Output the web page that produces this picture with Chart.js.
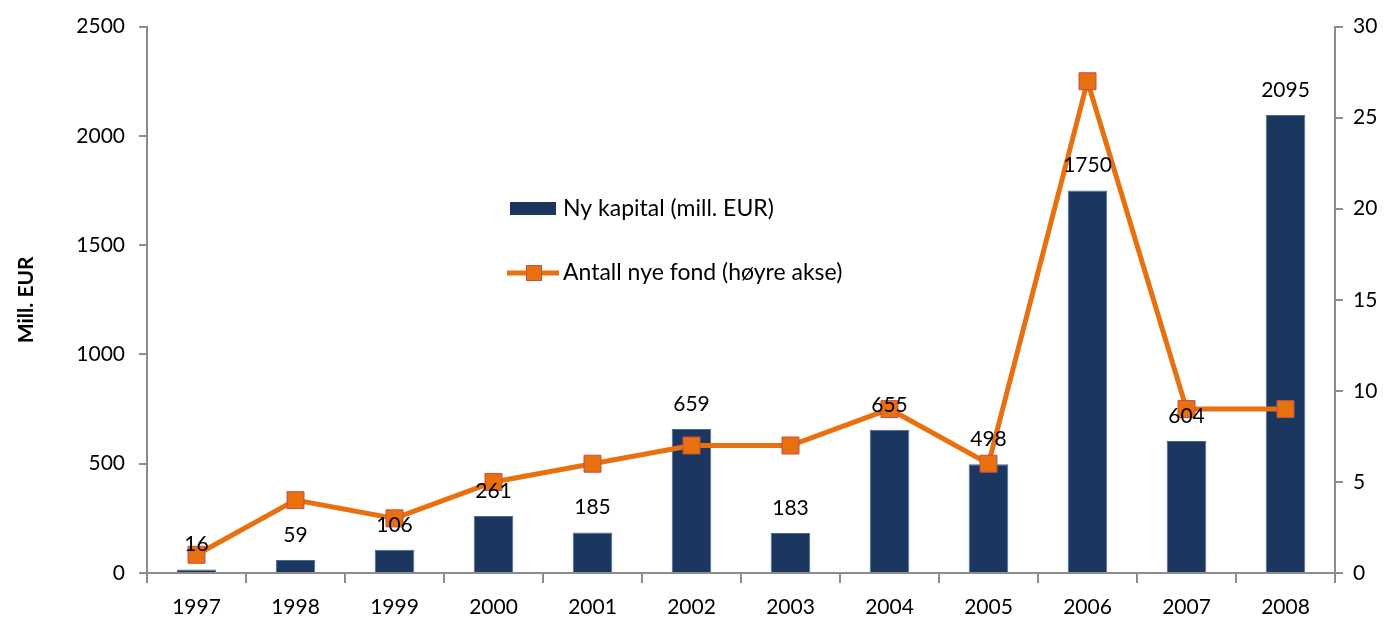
<!DOCTYPE html>
<html>
<head>
<meta charset="utf-8">
<script src="https://cdn.jsdelivr.net/npm/chart.js@4"></script>
<style>
  html, body { margin: 0; padding: 0; background: #fff; }
  #wrap { width: 1389px; height: 624px; position: relative; }
</style>
</head>
<body>
<div id="wrap"><canvas id="fondChart"></canvas></div>
<script>
const years = ['1997', '1998', '1999', '2000', '2001', '2002', '2003', '2004', '2005', '2006', '2007', '2008'];
const nyKapital = [16, 59, 106, 261, 185, 659, 183, 655, 498, 1750, 604, 2095];
const antallFond = [1, 4, 3, 5, 6, 7, 7, 9, 6, 27, 9, 9];
const leftTicks = [0, 500, 1000, 1500, 2000, 2500];
const rightTicks = [0, 5, 10, 15, 20, 25, 30];

const FONT = 'Lato, "Open Sans", sans-serif';
const BAR_COLOR = '#1b375f';
const LINE_COLOR = '#e8700f';
const AXIS_COLOR = '#8c8c8c';

// value labels above the bars, drawn after everything else
const barLabels = {
    id: 'barLabels',
    afterDatasetsDraw(chart) {
        const ctx = chart.ctx;
        const meta = chart.getDatasetMeta(0);
        ctx.save();
        ctx.font = '21px ' + FONT;
        ctx.fillStyle = '#000';
        ctx.textAlign = 'center';
        ctx.textBaseline = 'middle';
        meta.data.forEach(function(bar, i) {
            ctx.fillText(String(nyKapital[i]), bar.x, bar.y - 25);
        });
        ctx.restore();
    }
};

// legend placed inside the plot, like the original
const innerLegend = {
    id: 'innerLegend',
    afterDraw(chart) {
        const ctx = chart.ctx;
        ctx.save();
        ctx.font = '23px ' + FONT;
        ctx.textBaseline = 'middle';
        ctx.textAlign = 'left';

        ctx.fillStyle = BAR_COLOR;
        ctx.fillRect(510, 202, 46, 13);
        ctx.fillStyle = '#000';
        ctx.fillText(chart.data.datasets[0].label, 563, 209);

        ctx.strokeStyle = LINE_COLOR;
        ctx.lineWidth = 5;
        ctx.beginPath();
        ctx.moveTo(507, 273);
        ctx.lineTo(559, 273);
        ctx.stroke();
        ctx.fillStyle = LINE_COLOR;
        ctx.fillRect(526, 265, 16, 16);
        ctx.strokeStyle = '#c0504d';
        ctx.lineWidth = 1;
        ctx.strokeRect(526.5, 265.5, 15, 15);
        ctx.fillStyle = '#000';
        ctx.fillText(chart.data.datasets[1].label, 563, 273);
        ctx.restore();
    }
};

function plainNumber(value) { return String(value); }

new Chart(document.getElementById('fondChart').getContext('2d'), {
    type: 'bar',
    data: {
        labels: years,
        datasets: [{
            type: 'bar',
            label: 'Ny kapital (mill. EUR)',
            data: nyKapital,
            backgroundColor: BAR_COLOR,
            borderColor: '#4a6a95',
            borderWidth: 1,
            barPercentage: 0.4,
            categoryPercentage: 1,
            yAxisID: 'y',
            order: 2
        }, {
            type: 'line',
            label: 'Antall nye fond (høyre akse)',
            data: antallFond,
            borderColor: LINE_COLOR,
            borderWidth: 5,
            pointStyle: 'rect',
            pointRadius: 12,
            pointBackgroundColor: LINE_COLOR,
            pointBorderColor: '#c0504d',
            pointBorderWidth: 1,
            tension: 0,
            yAxisID: 'y1',
            order: 1
        }]
    },
    options: {
        responsive: true,
        maintainAspectRatio: false,
        animation: false,
        layout: {
            padding: { top: 26, right: 0, left: 0, bottom: 0 }
        },
        plugins: {
            legend: { display: false },
            tooltip: { enabled: false }
        },
        scales: {
            x: {
                offset: true,
                grid: {
                    offset: true,
                    drawOnChartArea: false,
                    color: AXIS_COLOR,
                    tickLength: 10,
                    lineWidth: 2
                },
                border: { color: AXIS_COLOR, width: 2 },
                ticks: {
                    color: '#000',
                    font: { family: FONT, size: 21 },
                    padding: 12
                },
                afterFit: function(scale) { scale.height = 51; }
            },
            y: {
                position: 'left',
                min: 0,
                max: 2500,
                afterBuildTicks: function(scale) {
                    scale.ticks = leftTicks.map(function(v) { return { value: v }; });
                },
                grid: {
                    drawOnChartArea: false,
                    color: AXIS_COLOR,
                    tickLength: 8,
                    lineWidth: 2
                },
                border: { color: AXIS_COLOR, width: 2 },
                ticks: {
                    color: '#000',
                    font: { family: FONT, size: 21 },
                    padding: 14,
                    callback: plainNumber
                },
                title: {
                    display: true,
                    text: 'Mill. EUR',
                    color: '#000',
                    font: { family: FONT, size: 21, weight: 'bold' },
                    padding: { top: 14, bottom: 0 }
                },
                afterFit: function(scale) { scale.width = 147; }
            },
            y1: {
                position: 'right',
                min: 0,
                max: 30,
                afterBuildTicks: function(scale) {
                    scale.ticks = rightTicks.map(function(v) { return { value: v }; });
                },
                grid: {
                    drawOnChartArea: false,
                    color: AXIS_COLOR,
                    tickLength: 8,
                    lineWidth: 2
                },
                border: { color: AXIS_COLOR, width: 2 },
                ticks: {
                    color: '#000',
                    font: { family: FONT, size: 21 },
                    padding: 10,
                    callback: plainNumber
                },
                afterFit: function(scale) { scale.width = 54; }
            }
        }
    },
    plugins: [barLabels, innerLegend]
});
</script>
</body>
</html>
